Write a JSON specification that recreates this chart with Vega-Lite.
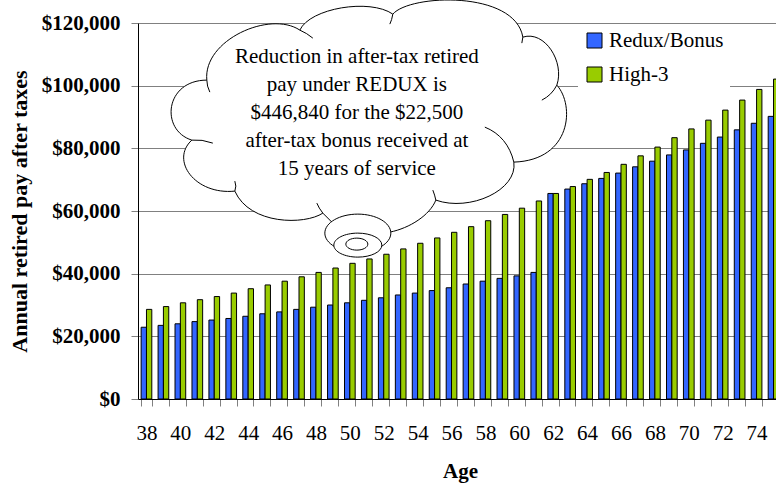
{
  "$schema": "https://vega.github.io/schema/vega-lite/v6.json",
  "width": 638,
  "height": 376,
  "autosize": {"type": "none"},
  "padding": {"left": 138, "top": 23, "right": 0, "bottom": 87},
  "background": "white",
  "config": {"view": {"stroke": null}, "font": "Liberation Serif"},
  "datasets": {
    "pay": [
      {"age": 38, "series": "Redux/Bonus", "value": 22900}, {"age": 38, "series": "High-3", "value": 28600},
      {"age": 39, "series": "Redux/Bonus", "value": 23500}, {"age": 39, "series": "High-3", "value": 29500},
      {"age": 40, "series": "Redux/Bonus", "value": 24000}, {"age": 40, "series": "High-3", "value": 30700},
      {"age": 41, "series": "Redux/Bonus", "value": 24700}, {"age": 41, "series": "High-3", "value": 31700},
      {"age": 42, "series": "Redux/Bonus", "value": 25200}, {"age": 42, "series": "High-3", "value": 32700},
      {"age": 43, "series": "Redux/Bonus", "value": 25700}, {"age": 43, "series": "High-3", "value": 33800},
      {"age": 44, "series": "Redux/Bonus", "value": 26400}, {"age": 44, "series": "High-3", "value": 35200},
      {"age": 45, "series": "Redux/Bonus", "value": 27200}, {"age": 45, "series": "High-3", "value": 36400},
      {"age": 46, "series": "Redux/Bonus", "value": 27800}, {"age": 46, "series": "High-3", "value": 37600},
      {"age": 47, "series": "Redux/Bonus", "value": 28600}, {"age": 47, "series": "High-3", "value": 39000},
      {"age": 48, "series": "Redux/Bonus", "value": 29300}, {"age": 48, "series": "High-3", "value": 40400},
      {"age": 49, "series": "Redux/Bonus", "value": 30000}, {"age": 49, "series": "High-3", "value": 41800},
      {"age": 50, "series": "Redux/Bonus", "value": 30700}, {"age": 50, "series": "High-3", "value": 43300},
      {"age": 51, "series": "Redux/Bonus", "value": 31500}, {"age": 51, "series": "High-3", "value": 44700},
      {"age": 52, "series": "Redux/Bonus", "value": 32300}, {"age": 52, "series": "High-3", "value": 46200},
      {"age": 53, "series": "Redux/Bonus", "value": 33200}, {"age": 53, "series": "High-3", "value": 47900},
      {"age": 54, "series": "Redux/Bonus", "value": 33800}, {"age": 54, "series": "High-3", "value": 49700},
      {"age": 55, "series": "Redux/Bonus", "value": 34600}, {"age": 55, "series": "High-3", "value": 51400},
      {"age": 56, "series": "Redux/Bonus", "value": 35500}, {"age": 56, "series": "High-3", "value": 53200},
      {"age": 57, "series": "Redux/Bonus", "value": 36700}, {"age": 57, "series": "High-3", "value": 55000},
      {"age": 58, "series": "Redux/Bonus", "value": 37600}, {"age": 58, "series": "High-3", "value": 56900},
      {"age": 59, "series": "Redux/Bonus", "value": 38500}, {"age": 59, "series": "High-3", "value": 58900},
      {"age": 60, "series": "Redux/Bonus", "value": 39300}, {"age": 60, "series": "High-3", "value": 60900},
      {"age": 61, "series": "Redux/Bonus", "value": 40400}, {"age": 61, "series": "High-3", "value": 63200},
      {"age": 62, "series": "Redux/Bonus", "value": 65600}, {"age": 62, "series": "High-3", "value": 65600},
      {"age": 63, "series": "Redux/Bonus", "value": 67000}, {"age": 63, "series": "High-3", "value": 67800},
      {"age": 64, "series": "Redux/Bonus", "value": 68700}, {"age": 64, "series": "High-3", "value": 70100},
      {"age": 65, "series": "Redux/Bonus", "value": 70400}, {"age": 65, "series": "High-3", "value": 72300},
      {"age": 66, "series": "Redux/Bonus", "value": 72100}, {"age": 66, "series": "High-3", "value": 74900},
      {"age": 67, "series": "Redux/Bonus", "value": 74100}, {"age": 67, "series": "High-3", "value": 77600},
      {"age": 68, "series": "Redux/Bonus", "value": 75900}, {"age": 68, "series": "High-3", "value": 80400},
      {"age": 69, "series": "Redux/Bonus", "value": 77900}, {"age": 69, "series": "High-3", "value": 83400},
      {"age": 70, "series": "Redux/Bonus", "value": 79500}, {"age": 70, "series": "High-3", "value": 86200},
      {"age": 71, "series": "Redux/Bonus", "value": 81600}, {"age": 71, "series": "High-3", "value": 89000},
      {"age": 72, "series": "Redux/Bonus", "value": 83600}, {"age": 72, "series": "High-3", "value": 92200},
      {"age": 73, "series": "Redux/Bonus", "value": 85900}, {"age": 73, "series": "High-3", "value": 95400},
      {"age": 74, "series": "Redux/Bonus", "value": 88000}, {"age": 74, "series": "High-3", "value": 98800},
      {"age": 75, "series": "Redux/Bonus", "value": 90200}, {"age": 75, "series": "High-3", "value": 102100}
    ],
    "note": [
      {"age": 50, "value": 90600, "text": "Reduction in after-tax retired\npay under REDUX is\n$446,840 for the $22,500\nafter-tax bonus received at\n15 years of service"}
    ]
  },
  "layer": [
    {
      "data": {"name": "pay"},
      "mark": {"type": "bar", "stroke": "black", "strokeWidth": 1},
      "encoding": {
        "x": {
          "field": "age", "type": "ordinal",
          "scale": {"range": [0, 644], "paddingInner": 0.37, "paddingOuter": 0.185},
          "axis": {
            "title": "Age", "titleFont": "Liberation Serif", "titleFontSize": 21, "titleFontWeight": "bold",
            "titleColor": "black", "titlePadding": 17,
            "labelFont": "Liberation Serif", "labelFontSize": 21, "labelColor": "black", "labelAngle": 0,
            "labelPadding": 16, "labelOverlap": false, "labelFlush": false,
            "labelExpr": "datum.value % 2 == 0 ? datum.label : ''",
            "tickBand": "extent", "tickSize": 7, "tickColor": "#808080", "domainColor": "black", "grid": false
          }
        },
        "xOffset": {"field": "series", "sort": ["Redux/Bonus", "High-3"], "scale": {"paddingInner": 0, "paddingOuter": 0}},
        "y": {
          "field": "value", "type": "quantitative",
          "scale": {"domain": [0, 120000]},
          "axis": {
            "title": "Annual retired pay after taxes", "titleFont": "Liberation Serif", "titleFontSize": 22,
            "titleFontWeight": "bold", "titleColor": "black", "titlePadding": 10,
            "labelFont": "Liberation Serif", "labelFontSize": 21, "labelFontWeight": "bold", "labelColor": "black",
            "labelPadding": 11, "tickSize": 7, "tickColor": "#808080", "domainColor": "black",
            "values": [0, 20000, 40000, 60000, 80000, 100000, 120000], "format": "$,.0f",
            "grid": true, "gridColor": "#808080", "gridWidth": 1
          }
        },
        "color": {
          "field": "series", "type": "nominal",
          "scale": {"domain": ["Redux/Bonus", "High-3"], "range": ["#3366FF", "#99CC00"]},
          "legend": {
            "title": null, "orient": "none", "legendX": 440, "legendY": 1, "direction": "vertical",
            "fillColor": "white", "padding": 6, "symbolType": "square", "symbolSize": 225,
            "symbolStrokeColor": "black", "symbolStrokeWidth": 1, "symbolOpacity": 1,
            "labelFont": "Liberation Serif", "labelFontSize": 21, "labelColor": "black",
            "rowPadding": 12, "labelOffset": 4
          }
        }
      }
    },
    {
      "data": {"name": "note"},
      "mark": {
        "type": "point", "filled": true, "fill": "white", "stroke": "black", "strokeWidth": 1, "opacity": 1, "size": 4,
        "shape": "M -143 -35 C -147 -75 -80 -105 -50 -85 C -40 -107 20 -117 43 -101 C 60 -121 165 -125 173 -78 C 195 -85 215 -53 207 -30 C 225 -10 222 45 164 47 C 168 75 120 97 86 85 C 80 100 60 113 40 117 L -18 107 L -27 98 C -45 110 -100 110 -115 76 C -155 80 -180 45 -158 25 C -190 15 -185 -35 -143 -35 Z M -140 -23 Q -143 -29 -143 -35 M -158 25 Q -148 24 -137 28 M -115 76 Q -113 71 -115 66 M -27 98 Q -31 93 -33 88 M 86 85 Q 85 80 83 75 M 135 12 C 150 18 160 30 164 47 M 207 -30 Q 202 -20 192 -15 M 173 -78 L 172 -72 M 43 -101 Q 42 -95 40 -91 M -50 -85 Q -43 -82 -37 -77"
      },
      "encoding": {
        "x": {"field": "age", "type": "ordinal"},
        "y": {"field": "value", "type": "quantitative"}
      }
    },
    {
      "data": {"name": "note"},
      "mark": {
        "type": "point", "filled": true, "fill": "white", "stroke": "black", "strokeWidth": 1, "opacity": 1, "size": 4,
        "shape": "M -25 118 A 33 19 0 1 0 41 118 A 33 19 0 1 0 -25 118 Z"
      },
      "encoding": {
        "x": {"field": "age", "type": "ordinal"},
        "y": {"field": "value", "type": "quantitative"}
      }
    },
    {
      "data": {"name": "note"},
      "mark": {
        "type": "point", "filled": true, "fill": "white", "stroke": "black", "strokeWidth": 1, "opacity": 1, "size": 4,
        "shape": "M -16 130 A 24 12 0 1 0 32 130 A 24 12 0 1 0 -16 130 Z"
      },
      "encoding": {
        "x": {"field": "age", "type": "ordinal"},
        "y": {"field": "value", "type": "quantitative"}
      }
    },
    {
      "data": {"name": "note"},
      "mark": {
        "type": "point", "filled": true, "fill": "white", "stroke": "black", "strokeWidth": 1, "opacity": 1, "size": 4,
        "shape": "M -4 129 A 11 6 0 1 0 18 129 A 11 6 0 1 0 -4 129 Z"
      },
      "encoding": {
        "x": {"field": "age", "type": "ordinal"},
        "y": {"field": "value", "type": "quantitative"}
      }
    },
    {
      "data": {"name": "note"},
      "mark": {
        "type": "text", "font": "Liberation Serif", "fontSize": 21, "lineHeight": 28, "lineBreak": "\n",
        "align": "center", "baseline": "middle", "dx": 7, "dy": -58, "color": "black"
      },
      "encoding": {
        "x": {"field": "age", "type": "ordinal"},
        "y": {"field": "value", "type": "quantitative"},
        "text": {"field": "text"}
      }
    }
  ]
}
